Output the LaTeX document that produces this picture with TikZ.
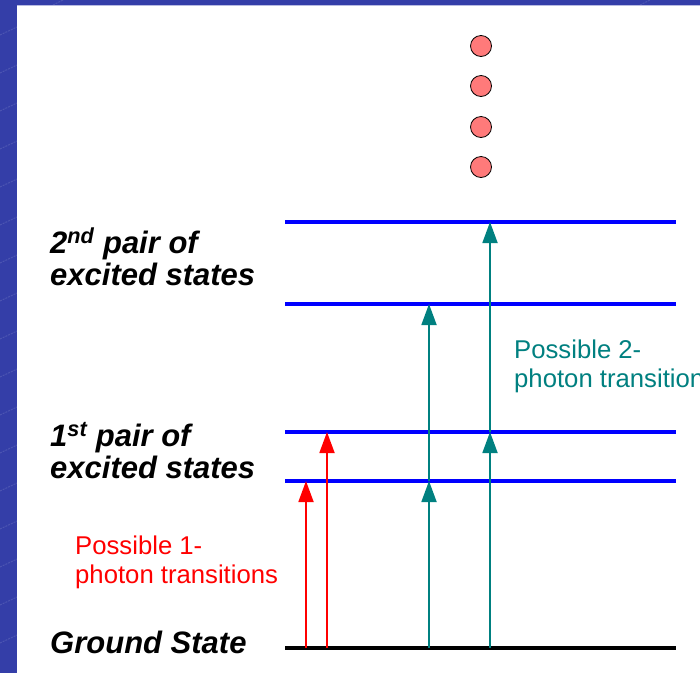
\documentclass[tikz,border=0pt]{standalone}
\usepackage{fontspec}
\setmainfont{Liberation Sans}
\usetikzlibrary{arrows.meta,positioning}
\definecolor{FrameClr}{RGB}{52,62,168}
\definecolor{LevelClr}{RGB}{0,0,255}
\definecolor{OneClr}{RGB}{255,0,0}
\definecolor{TwoClr}{RGB}{0,128,128}
\definecolor{DotClr}{RGB}{255,122,122}

\begin{document}
\begin{tikzpicture}[x=1pt,y=-1pt,
  level/.style={line width=3.5pt,color=LevelClr},
  ground/.style={line width=3.5pt,color=black},
  uparrow/.style={line width=1.8pt,-{Triangle[length=21pt,width=15pt]}},
  statelabel/.style={font=\fontsize{31}{32}\selectfont\bfseries\itshape,anchor=base west,inner sep=0pt,align=left},
  notelabel/.style={font=\fontsize{25.7}{28.5}\selectfont,anchor=base west,inner sep=0pt,align=left},
  dot/.style={circle,draw=black,line width=0.8pt,fill=DotClr,minimum size=21pt,inner sep=0pt}]
\useasboundingbox (0,0) rectangle (700,673);
\clip (0,0) rectangle (700,673);

% slide frame
\fill[FrameClr] (0,0) rectangle (700,673);
\foreach \k in {0,...,17}
  \draw[white,opacity=0.12,line width=1pt,dash pattern=on 2pt off 1pt] (0,35+38*\k) -- ++(17,-8);
\draw[white,opacity=0.12,line width=1pt,dash pattern=on 2pt off 1pt] (53,5) -- ++(12,-6);
\draw[white,opacity=0.12,line width=1pt,dash pattern=on 2pt off 1pt] (640,5) -- ++(10,-5);
\fill[white] (17,5) rectangle (700,673);
\draw[FrameClr!35,line width=1pt] (17,5.5) -- (700,5.5);

% energy levels
\coordinate (g-l) at (285,648);  \coordinate (g-r) at (676,648);
\coordinate (a1-l) at (285,481); \coordinate (a1-r) at (676,481);
\coordinate (b1-l) at (285,432); \coordinate (b1-r) at (676,432);
\coordinate (a2-l) at (285,304); \coordinate (a2-r) at (676,304);
\coordinate (b2-l) at (285,222); \coordinate (b2-r) at (676,222);

\draw[ground] (g-l) -- (g-r);
\draw[level] (a1-l) -- (a1-r);
\draw[level] (b1-l) -- (b1-r);
\draw[level] (a2-l) -- (a2-r);
\draw[level] (b2-l) -- (b2-r);

% columns of the transitions
\coordinate (col-r1) at (306,0);
\coordinate (col-r2) at (327,0);
\coordinate (col-t1) at (429,0);
\coordinate (col-t2) at (490,0);

\draw[uparrow,OneClr] (col-r1 |- g-l) -- (col-r1 |- a1-l);
\draw[uparrow,OneClr] (col-r2 |- g-l) -- (col-r2 |- b1-l);

\draw[uparrow,TwoClr] (col-t1 |- g-l) -- (col-t1 |- a1-l);
\draw[uparrow,TwoClr] (col-t1 |- a1-l) -- (col-t1 |- a2-l);
\draw[uparrow,TwoClr] (col-t2 |- g-l) -- (col-t2 |- b1-l);
\draw[uparrow,TwoClr] (col-t2 |- b1-l) -- (col-t2 |- b2-l);

% higher states
\foreach \i/\y in {1/46,2/86,3/127,4/167}
  \node[dot] (dot\i) at (481,\y) {};

\node[statelabel] (second) at (50,285) {2\textsuperscript{nd} pair of\\excited states};
\node[statelabel] (first) at (50,478) {1\textsuperscript{st} pair of\\excited states};
\node[statelabel] (ground) at (50,653) {Ground State};

\node[notelabel,OneClr] (one-note) at (75,583) {Possible 1-\\photon transitions};
\node[notelabel,TwoClr] (two-note) at (514,387) {Possible 2-\\photon transitions};
\end{tikzpicture}
\end{document}
